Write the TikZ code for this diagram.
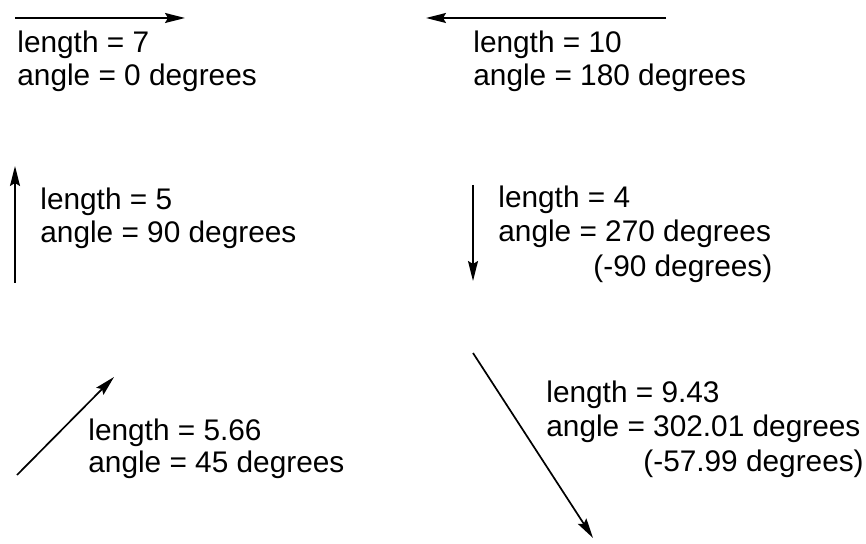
\documentclass[tikz,border=0pt]{standalone}
\usepackage{fontspec}
\setmainfont{Liberation Sans}
\usetikzlibrary{arrows.meta}
\begin{document}
\begin{tikzpicture}[x=0.5pt,y=-0.5pt,
  lbl/.style={anchor=base west,inner sep=0pt,font=\fontsize{14.9}{16}\selectfont},
  vec/.style={line width=0.85pt,-{Stealth[length=10pt,width=5pt,inset=1.5pt]}}]
\useasboundingbox (0,0) rectangle (866,544);
% vector 1
\coordinate (a1) at (15,18);
\coordinate (b1) at (185,18);
\draw[vec] (a1) -- (b1);
\node[lbl] (t1a) at (17,53) {length = 7};
\node[lbl] (t1b) at (17,86) {angle = 0 degrees};
% vector 2
\coordinate (a2) at (666,18);
\coordinate (b2) at (426,18);
\draw[vec] (a2) -- (b2);
\node[lbl] (t2a) at (473,53) {length = 10};
\node[lbl] (t2b) at (473,86) {angle = 180 degrees};
% vector 3
\coordinate (a3) at (15,283);
\coordinate (b3) at (15,166);
\draw[vec] (a3) -- (b3);
\node[lbl] (t3a) at (40,210) {length = 5};
\node[lbl] (t3b) at (40,243) {angle = 90 degrees};
% vector 4
\coordinate (a4) at (473,185);
\coordinate (b4) at (473,281);
\draw[vec] (a4) -- (b4);
\node[lbl] (t4a) at (498,208) {length = 4};
\node[lbl] (t4b) at (498,242) {angle = 270 degrees};
\node[lbl] (t4c) at (593,277) {(-90 degrees)};
% vector 5
\coordinate (a5) at (17,475);
\coordinate (b5) at (114,377);
\draw[vec] (a5) -- (b5);
\node[lbl] (t5a) at (88,440) {length = 5.66};
\node[lbl] (t5b) at (88,473) {angle = 45 degrees};
% vector 6
\coordinate (a6) at (473,353);
\coordinate (b6) at (593,538);
\draw[vec] (a6) -- (b6);
\node[lbl] (t6a) at (546,403) {length = 9.43};
\node[lbl] (t6b) at (546,437) {angle = 302.01 degrees};
\node[lbl] (t6c) at (643,471) {(-57.99 degrees)};
\end{tikzpicture}
\end{document}
